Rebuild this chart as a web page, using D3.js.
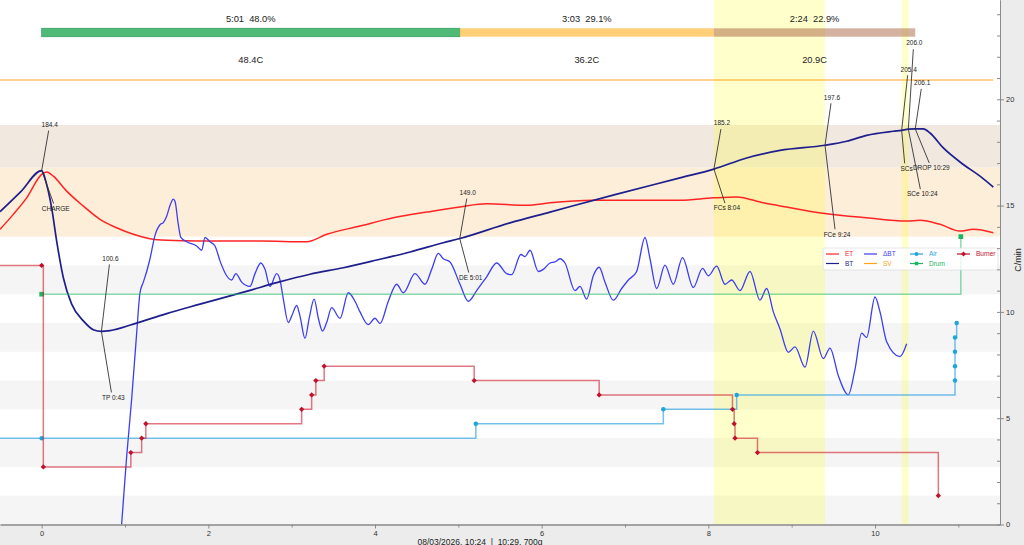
<!DOCTYPE html>
<html>
<head>
<meta charset="utf-8">
<script src="https://cdn.jsdelivr.net/npm/d3@7"></script>
<style>
  body { margin: 0; background: #ececec; }
  svg text { font-family: "Liberation Sans", Arial, sans-serif; fill: #222; }
</style>
</head>
<body>
<svg id="chart" width="1024" height="545"></svg>
<script>
'use strict'

// ---- data (minutes, temperature C, delta C/min, event values 0-100) ----
var etData = [[-0.5,153.8],[-0.34,161.6],[-0.18,170.2],[0,182.4],[0.06,183.7],[0.14,181.5],[0.3,173.7],[0.5,165.9],[0.7,159.0],[0.9,154.6],[1.1,151.2],[1.3,148.9],[1.5,148.1],[1.9,147.7],[2.62,147.7],[3.18,147.3],[3.42,151.2],[3.82,155.5],[4.22,159.8],[4.62,162.8],[5.02,165.5],[5.34,167.1],[5.82,166.3],[6.1,167.6],[6.62,168.9],[7.18,169.0],[7.66,168.9],[8.06,170.2],[8.34,170.7],[8.66,167.6],[8.94,165.4],[9.42,161.9],[9.9,159.8],[10.38,158.1],[10.54,158.5],[10.78,156.4],[11.02,152.9],[11.18,153.8],[11.42,152.0]]

var btData = [[-0.5,163.0],[-0.25,173.5],[0,184.4],[0.06,177.2],[0.12,165.0],[0.18,147.7],[0.26,128.6],[0.36,114.8],[0.5,106.1],[0.62,101.5],[0.717,100.6],[0.82,101.0],[1.1,104.4],[1.5,109.9],[1.9,114.8],[2.5,122.0],[2.82,126.0],[3.22,130.4],[3.62,133.8],[4.02,137.8],[4.42,142.0],[4.82,146.8],[5.017,149.0],[5.62,157.2],[6.1,162.8],[6.88,171.9],[7.66,180.6],[8.067,185.2],[8.46,191.0],[8.86,194.9],[9.4,197.6],[9.66,199.7],[9.9,202.8],[10.22,204.9],[10.32,205.4],[10.4,206.0],[10.483,206.1],[10.58,206.1],[10.66,204.0],[10.82,196.2],[11.06,187.6],[11.26,181.5],[11.42,175.8]]

var dbtData = [[0.95,-0.5],[0.98,1.1],[1.02,3.2],[1.08,5.9],[1.14,9.0],[1.18,10.9],[1.22,11.4],[1.26,11.9],[1.30,12.5],[1.36,13.6],[1.42,14.1],[1.46,14.2],[1.50,14.5],[1.54,15.0],[1.58,15.3],[1.60,15.2],[1.64,14.1],[1.67,13.5],[1.74,13.3],[1.86,13.1],[1.92,12.9],[1.96,13.5],[2.02,13.3],[2.08,13.1],[2.14,12.4],[2.22,11.7],[2.28,11.5],[2.33,11.8],[2.40,11.4],[2.50,11.2],[2.56,11.8],[2.63,12.3],[2.68,12.0],[2.74,11.2],[2.82,11.8],[2.86,11.5],[2.90,10.6],[2.96,9.5],[3.00,9.8],[3.06,10.3],[3.10,9.8],[3.16,8.75],[3.21,9.7],[3.27,10.6],[3.32,9.7],[3.37,9.1],[3.42,9.5],[3.48,10.2],[3.58,9.7],[3.68,10.9],[3.76,10.5],[3.82,10.0],[3.92,9.4],[4.00,9.7],[4.06,9.45],[4.16,10.5],[4.26,11.3],[4.34,10.9],[4.48,11.8],[4.60,11.3],[4.68,12.0],[4.76,12.75],[4.82,12.5],[4.90,12.35],[5.02,11.3],[5.12,10.5],[5.22,11.0],[5.34,11.65],[5.46,12.3],[5.58,11.8],[5.64,11.75],[5.75,12.7],[5.80,12.6],[5.86,12.9],[5.96,11.9],[6.02,12.0],[6.10,12.3],[6.16,12.35],[6.22,12.5],[6.28,12.3],[6.40,11.0],[6.46,11.2],[6.54,10.6],[6.62,11.7],[6.69,12.1],[6.76,11.4],[6.86,10.55],[6.96,11.1],[7.04,11.5],[7.14,11.9],[7.24,13.5],[7.30,12.5],[7.38,11.1],[7.48,12.2],[7.58,11.3],[7.69,12.55],[7.82,11.15],[7.93,12.05],[8.00,11.7],[8.10,12.15],[8.20,11.3],[8.28,11.5],[8.38,11.0],[8.50,11.9],[8.62,10.55],[8.70,11.1],[8.78,10.0],[8.86,9.2],[8.96,8.1],[9.04,8.35],[9.16,7.4],[9.26,9.1],[9.38,7.8],[9.46,8.3],[9.56,7.0],[9.68,6.1],[9.76,7.3],[9.84,9.0],[9.90,8.8],[10.00,10.7],[10.06,10.0],[10.14,8.6],[10.30,7.9],[10.38,8.5]]

var svData = [[-0.5,231.6],[11.42,231.6]]

var burnerEvents = [[-0.9,90],[0,90],[0.02,20],[1.07,25],[1.2,30],[1.25,35],[3.12,40],[3.24,45],[3.29,50],[3.39,55],[5.19,50],[6.69,45],[8.29,40],[8.31,35],[8.32,30],[8.59,25],[10.76,10]]
var airEvents = [[-0.9,30],[0,30],[5.21,35],[7.46,40],[8.34,45],[10.96,50],[10.96,55],[10.96,60],[10.96,65],[10.98,70]]
var drumEvents = [[0,80],[11.03,100]]

var eventNames  = ['CHARGE', 'TP', 'DE', 'FCs', 'FCe', 'SCs', 'SCe', 'DROP']
var eventTimes  = [0, 0.717, 5.017, 8.067, 9.4, 10.32, 10.4, 10.483]
var eventTemps  = [184.4, 100.6, 149.0, 185.2, 197.6, 205.4, 206.0, 206.1]
var eventLabels = ['CHARGE', 'TP 0:43', 'DE 5:01', 'FCs 8:04', 'FCe 9:24', 'SCs', 'SCe 10:24', 'DROP 10:29']

var phaseDur  = ['5:01', '3:03', '2:24']
var phasePct  = ['48.0%', '29.1%', '22.9%']
var phaseRise = ['48.4C', '36.2C', '20.9C']

var bandTemps = [150, 186.1, 208.2]
var timeTicks = [0, 2, 4, 6, 8, 10]
var deltaTicks = [0, 5, 10, 15, 20]

// ---- layout ----
var svg = d3.select('#chart')
  , pL = 0, pR = 1000, pT = 0, pB = 524.5
  , x = d3.scaleLinear().domain([-0.5, 11.5]).range([pL, pR])
  , yT = d3.scaleLinear().domain([0, 273.3]).range([pB, pT])
  , yD = d3.scaleLinear().domain([0, 24.67]).range([pB, pT])
  , yE = d3.scaleLinear().domain([0, 100]).range([yT(0), yT(150)])

// label offsets around each event point: [tempDx, tempDy, nameDx, nameDy]
var annoOffsets = {
  CHARGE: [8, -46, 14, 38], TP: [9, -73, 12, 66], DE: [8, -46, 11, 39],
  FCs: [8, -46, 13, 39], FCe: [7, -48, 12, 89], SCs: [7, -61, 5, 38],
  SCe: [6, -86, 14, 65], DROP: [7, -46, 16, 39]
}

svg.append('defs').append('clipPath').attr('id', 'plotclip')
  .append('rect').attr('x', pL).attr('y', pT).attr('width', pR - pL).attr('height', pB - pT)

var plot = svg.append('g').attr('clip-path', 'url(#plotclip)')
plot.append('rect').attr('x', pL).attr('y', pT).attr('width', pR - pL).attr('height', pB - pT).attr('fill', '#fff')

// event-value stripes
plot.selectAll('rect.stripe').data(d3.range(0, 100, 20)).enter().append('rect')
  .attr('x', pL).attr('width', pR - pL)
  .attr('y', function(d){ return yE(d + 10) })
  .attr('height', function(d){ return yE(d) - yE(d + 10) })
  .attr('fill', '#f5f5f5')

// phase temperature bands
var bandFill = ['#fdeed9', '#f1e8e0']
d3.range(bandTemps.length - 1).forEach(function(i){
  plot.append('rect').attr('x', pL).attr('width', pR - pL)
    .attr('y', yT(bandTemps[i + 1])).attr('height', yT(bandTemps[i]) - yT(bandTemps[i + 1]))
    .attr('fill', bandFill[i])
})

// first / second crack highlights
var tOf = function(n){ return eventTimes[eventNames.indexOf(n)] }
;[['FCs', 'FCe'], ['SCs', 'SCe']].forEach(function(p){
  plot.append('rect').attr('x', x(tOf(p[0]))).attr('width', x(tOf(p[1])) - x(tOf(p[0])))
    .attr('y', pT).attr('height', pB - pT)
    .attr('fill', 'rgb(255,255,0)').attr('fill-opacity', 0.2)
})

// phases bar
var phaseEdges = [tOf('CHARGE'), tOf('DE'), tOf('FCs'), tOf('DROP')]
  , phaseFill = ['rgba(40,170,90,0.82)', 'rgba(255,175,30,0.6)', 'rgba(160,82,45,0.45)']
d3.range(3).forEach(function(i){
  var x0 = x(phaseEdges[i]), x1 = x(phaseEdges[i + 1]), cx = (x0 + x1) / 2
  plot.append('rect').attr('x', x0).attr('y', 28.3).attr('width', x1 - x0).attr('height', 8.4)
    .attr('fill', phaseFill[i]).attr('stroke', i === 0 ? 'rgba(30,150,80,0.8)' : 'none').attr('stroke-width', 0.8)
  plot.append('text').attr('x', cx).attr('y', 21.5).attr('text-anchor', 'middle')
    .style('font-size', '9.3px').text(phaseDur[i] + '\u00a0\u00a0' + phasePct[i])
  plot.append('text').attr('x', cx).attr('y', 62.5).attr('text-anchor', 'middle')
    .style('font-size', '9.3px').text(phaseRise[i])
})

// curves
var line = function(yScale){
  return d3.line().x(function(d){ return x(d[0]) }).y(function(d){ return yScale(d[1]) }).curve(d3.curveMonotoneX)
}
plot.append('path').datum(svData).attr('d', line(yT)).attr('fill', 'none').attr('stroke', '#ffa31a').attr('stroke-width', 1.1)
plot.append('path').datum(etData).attr('d', line(yT)).attr('fill', 'none').attr('stroke', '#ff2323').attr('stroke-width', 1.5)
plot.append('path').datum(dbtData).attr('d', line(yD)).attr('fill', 'none').attr('stroke', '#3d3df2').attr('stroke-width', 1.3)
plot.append('path').datum(btData).attr('d', line(yT)).attr('fill', 'none').attr('stroke', '#1e1e8c').attr('stroke-width', 1.7)

// event step lines
var stepLine = d3.line().x(function(d){ return x(d[0]) }).y(function(d){ return yE(d[1]) }).curve(d3.curveStepAfter)
  , evSeries = [
      { data: drumEvents, line: 'rgba(40,190,110,0.55)', mark: '#1db463', shape: d3.symbolSquare, size: 22, rot: 0 },
      { data: airEvents, line: 'rgba(40,160,225,0.65)', mark: '#1fa4dc', shape: d3.symbolCircle, size: 16, rot: 0 },
      { data: burnerEvents, line: 'rgba(205,30,45,0.6)', mark: '#c0102a', shape: d3.symbolSquare, size: 14, rot: 45 }
    ]
evSeries.forEach(function(s){
  plot.append('path').datum(s.data).attr('d', stepLine).attr('fill', 'none')
    .attr('stroke', s.line).attr('stroke-width', 1.5)
  plot.selectAll(null).data(s.data.filter(function(d){ return d[0] >= x.domain()[0] })).enter().append('path')
    .attr('d', d3.symbol().type(s.shape).size(s.size))
    .attr('transform', function(d){ return 'translate(' + x(d[0]) + ',' + yE(d[1]) + ') rotate(' + s.rot + ')' })
    .attr('fill', s.mark)
})

// annotations
eventNames.forEach(function(n, i){
  var px = x(eventTimes[i]), py = yT(eventTemps[i]), o = annoOffsets[n]
    , tx = px + o[0], ty = py + o[1], ex = px + o[2], ey = py + o[3]
  plot.append('path').attr('d', 'M' + (tx - 1) + ',' + (ty + 6) + 'L' + px + ',' + py + 'L' + (ex - 2) + ',' + (ey - 5))
    .attr('fill', 'none').attr('stroke', '#333').attr('stroke-width', 0.9)
  plot.append('text').attr('x', tx).attr('y', ty + 2.3).attr('text-anchor', 'middle')
    .style('font-size', '6.5px').text(eventTemps[i].toFixed(1))
  plot.append('text').attr('x', ex).attr('y', ey + 2.3).attr('text-anchor', 'middle')
    .style('font-size', '6.5px').text(eventLabels[i])
})

// legend
var legend = plot.append('g')
  , legCols = [826, 864, 910, 957]
legend.append('rect').attr('x', 823).attr('y', 248).attr('width', 175).attr('height', 22).attr('rx', 2)
  .attr('fill', 'rgba(255,255,255,0.8)').attr('stroke', '#e0e0e0').attr('stroke-width', 0.8)
var legItems = [
  { name: 'ET', color: '#ff2323', col: 0, row: 0 },
  { name: 'BT', color: '#1e1e8c', col: 0, row: 1 },
  { name: '\u0394BT', color: '#3d3df2', col: 1, row: 0 },
  { name: 'SV', color: '#ffa31a', col: 1, row: 1 },
  { name: 'Air', color: '#1fa4dc', col: 2, row: 0, shape: d3.symbolCircle, rot: 0 },
  { name: 'Drum', color: '#1db463', col: 2, row: 1, shape: d3.symbolSquare, rot: 0 },
  { name: 'Burner', color: '#c0102a', col: 3, row: 0, shape: d3.symbolSquare, rot: 45 }
]
legItems.forEach(function(d){
  var lx = legCols[d.col], ly = 254 + d.row * 9.5
  legend.append('line').attr('x1', lx).attr('x2', lx + 13).attr('y1', ly).attr('y2', ly)
    .attr('stroke', d.color).attr('stroke-width', 1.2)
  if (d.shape) legend.append('path').attr('d', d3.symbol().type(d.shape).size(12)())
    .attr('transform', 'translate(' + (lx + 6.5) + ',' + ly + ') rotate(' + d.rot + ')').attr('fill', d.color)
  legend.append('text').attr('x', lx + 19).attr('y', ly + 2.3).style('font-size', '6.5px')
    .style('fill', d.color).text(d.name)
})

// axes
var axisStyle = function(g){
  g.selectAll('path.domain, line').attr('stroke', '#8a8a8a')
  g.selectAll('text').style('font-size', '7.5px').style('fill', '#333')
}
svg.append('g').attr('transform', 'translate(0,' + pB + ')')
  .call(d3.axisBottom(x).tickValues(d3.range(1, 12, 2)).tickSize(3).tickFormat('').tickSizeOuter(0)).call(axisStyle)
svg.append('g').attr('transform', 'translate(0,' + pB + ')')
  .call(d3.axisBottom(x).tickValues(timeTicks).tickSize(4).tickPadding(2).tickFormat(d3.format('d')).tickSizeOuter(0)).call(axisStyle)
svg.append('g').attr('transform', 'translate(' + pR + ',0)')
  .call(d3.axisLeft(yD).tickValues(d3.range(0, 25)).tickSize(3).tickFormat('').tickSizeOuter(0)).call(axisStyle)
svg.append('g').attr('transform', 'translate(' + pR + ',0)')
  .call(d3.axisRight(yD).tickValues(deltaTicks).tickSize(4).tickPadding(2).tickFormat(d3.format('d')).tickSizeOuter(0)).call(axisStyle)

svg.append('text').attr('transform', 'translate(1021,260) rotate(-90)').attr('text-anchor', 'middle')
  .style('font-size', '9px').text('C/min')
svg.append('text').attr('x', 480).attr('y', 544.5).attr('text-anchor', 'middle')
  .style('font-size', '8.5px').text('08/03/2026, 10:24\u00a0\u00a0|\u00a0\u00a010:29, 700g')
</script>
</body>
</html>
